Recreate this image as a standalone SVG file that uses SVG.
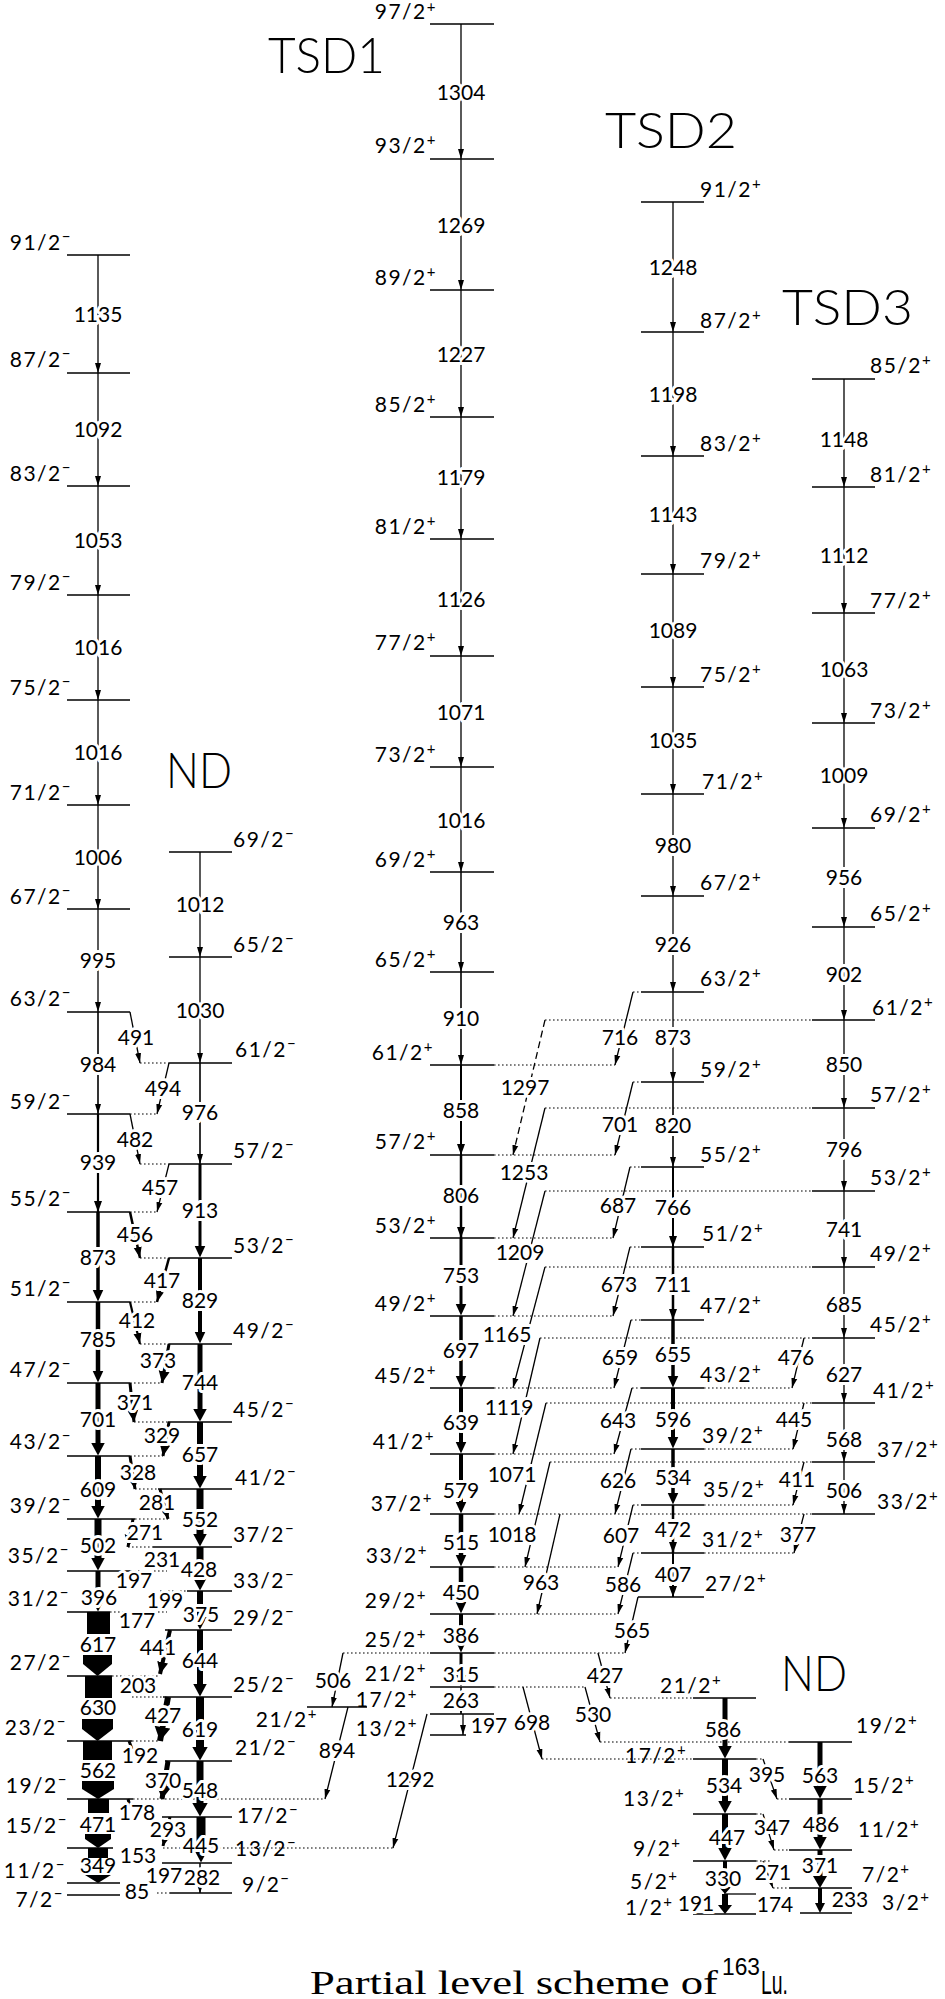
<svg xmlns="http://www.w3.org/2000/svg" width="945" height="1999" viewBox="0 0 945 1999">
<style>
.l{stroke:#000;stroke-width:1.3;fill:none}
.d{stroke:#000;stroke-width:1.2;stroke-dasharray:1.6 2.4;fill:none}
.dd{stroke:#000;stroke-width:1.3;stroke-dasharray:7 4;fill:none}
.t{stroke:#000;stroke-width:1.3;fill:none}
text{font-family:Lato,"DejaVu Sans",sans-serif;font-size:21px;font-weight:400;fill:#000}
#levels text{letter-spacing:1.5px}
.e{text-anchor:end}
.m{text-anchor:middle}
.h{paint-order:stroke;stroke:#fff;stroke-width:6px;stroke-linejoin:round}
.p{font-size:15px}
.big{font-size:50px;font-weight:300}
.cap{font-family:"Liberation Serif",serif;font-size:33px;font-weight:400}
.cs{font-family:"Liberation Sans",sans-serif;font-weight:400}
</style>
<defs>
<marker id="a1" markerUnits="userSpaceOnUse" viewBox="0 -8 16 16" markerWidth="16" markerHeight="16" refX="10" refY="0" orient="auto"><path d="M0,-3L10,0L0,3Z"/></marker>
<marker id="a2" markerUnits="userSpaceOnUse" viewBox="0 -8 16 16" markerWidth="16" markerHeight="16" refX="11" refY="0" orient="auto"><path d="M0,-4L11,0L0,4Z"/></marker>
<marker id="a3" markerUnits="userSpaceOnUse" viewBox="0 -8 16 16" markerWidth="16" markerHeight="16" refX="12" refY="0" orient="auto"><path d="M0,-5.5L12,0L0,5.5Z"/></marker>
<marker id="a4" markerUnits="userSpaceOnUse" viewBox="0 -8 16 16" markerWidth="16" markerHeight="16" refX="14" refY="0" orient="auto"><path d="M0,-8L14,0L0,8Z"/></marker>
<marker id="b3" markerUnits="userSpaceOnUse" viewBox="0 -8 16 16" markerWidth="16" markerHeight="16" refX="0.5" refY="0" orient="auto"><path d="M0,-5.5L12,0L0,5.5Z"/></marker>
<marker id="b4" markerUnits="userSpaceOnUse" viewBox="0 -8 16 16" markerWidth="16" markerHeight="16" refX="0.5" refY="0" orient="auto"><path d="M0,-7L13,0L0,7Z"/></marker>
<marker id="b5" markerUnits="userSpaceOnUse" viewBox="0 -8 16 16" markerWidth="16" markerHeight="16" refX="0.5" refY="0" orient="auto"><path d="M0,-8L14,0L0,8Z"/></marker>
</defs>
<rect width="945" height="1999" fill="#fff"/>

<g id="titles">
<text class="big" x="268" y="73" textLength="117" lengthAdjust="spacingAndGlyphs">TSD1</text>
<text class="big" x="605" y="148" textLength="132" lengthAdjust="spacingAndGlyphs">TSD2</text>
<text class="big" x="782" y="325" textLength="131" lengthAdjust="spacingAndGlyphs">TSD3</text>
<text class="big" x="166" y="788" textLength="66" lengthAdjust="spacingAndGlyphs">ND</text>
<text class="big" x="781" y="1691" textLength="66" lengthAdjust="spacingAndGlyphs">ND</text>
</g>

<g id="levels">
<g id="nd1-91"><line class="l" x1="67" y1="255" x2="130" y2="255"/><text class="e" x="72" y="250">91/2<tspan class="p" dy="-8">−</tspan></text></g>
<g id="nd1-87"><line class="l" x1="67" y1="373" x2="130" y2="373"/><text class="e" x="72" y="367">87/2<tspan class="p" dy="-8">−</tspan></text></g>
<g id="nd1-83"><line class="l" x1="67" y1="486" x2="130" y2="486"/><text class="e" x="72" y="481">83/2<tspan class="p" dy="-8">−</tspan></text></g>
<g id="nd1-79"><line class="l" x1="67" y1="595" x2="130" y2="595"/><text class="e" x="72" y="590">79/2<tspan class="p" dy="-8">−</tspan></text></g>
<g id="nd1-75"><line class="l" x1="67" y1="700" x2="130" y2="700"/><text class="e" x="72" y="695">75/2<tspan class="p" dy="-8">−</tspan></text></g>
<g id="nd1-71"><line class="l" x1="67" y1="805" x2="130" y2="805"/><text class="e" x="72" y="800">71/2<tspan class="p" dy="-8">−</tspan></text></g>
<g id="nd1-67"><line class="l" x1="67" y1="909" x2="130" y2="909"/><text class="e" x="72" y="904">67/2<tspan class="p" dy="-8">−</tspan></text></g>
<g id="nd1-63"><line class="l" x1="67" y1="1012" x2="130" y2="1012"/><text class="e" x="72" y="1006">63/2<tspan class="p" dy="-8">−</tspan></text></g>
<g id="nd1-59"><line class="l" x1="67" y1="1114" x2="130" y2="1114"/><text class="e" x="72" y="1109">59/2<tspan class="p" dy="-8">−</tspan></text></g>
<g id="nd1-55"><line class="l" x1="67" y1="1212" x2="130" y2="1212"/><text class="e" x="72" y="1206">55/2<tspan class="p" dy="-8">−</tspan></text></g>
<g id="nd1-51"><line class="l" x1="67" y1="1302" x2="130" y2="1302"/><text class="e" x="72" y="1296">51/2<tspan class="p" dy="-8">−</tspan></text></g>
<g id="nd1-47"><line class="l" x1="67" y1="1383" x2="130" y2="1383"/><text class="e" x="72" y="1377">47/2<tspan class="p" dy="-8">−</tspan></text></g>
<g id="nd1-43"><line class="l" x1="67" y1="1456" x2="130" y2="1456"/><text class="e" x="72" y="1449">43/2<tspan class="p" dy="-8">−</tspan></text></g>
<g id="nd1-39"><line class="l" x1="67" y1="1519" x2="135" y2="1519"/><text class="e" x="72" y="1513">39/2<tspan class="p" dy="-8">−</tspan></text></g>
<g id="nd1-35"><line class="l" x1="67" y1="1571" x2="130" y2="1571"/><text class="e" x="70" y="1563">35/2<tspan class="p" dy="-8">−</tspan></text></g>
<g id="nd1-31"><line class="l" x1="67" y1="1612" x2="110" y2="1612"/><text class="e" x="70" y="1606">31/2<tspan class="p" dy="-8">−</tspan></text></g>
<g id="nd1-27"><line class="l" x1="67" y1="1676" x2="112" y2="1676"/><text class="e" x="72" y="1670">27/2<tspan class="p" dy="-8">−</tspan></text></g>
<g id="nd1-23"><line class="l" x1="67" y1="1741" x2="132" y2="1741"/><text class="e" x="67" y="1735">23/2<tspan class="p" dy="-8">−</tspan></text></g>
<g id="nd1-19"><line class="l" x1="67" y1="1799" x2="133" y2="1799"/><text class="e" x="68" y="1793">19/2<tspan class="p" dy="-8">−</tspan></text></g>
<g id="nd1-15"><line class="l" x1="67" y1="1848" x2="113" y2="1848"/><text class="e" x="68" y="1833">15/2<tspan class="p" dy="-8">−</tspan></text></g>
<g id="nd1-11"><line class="l" x1="67" y1="1883" x2="120" y2="1883"/><text class="e" x="66" y="1878">11/2<tspan class="p" dy="-8">−</tspan></text></g>
<g id="nd1-7"><line class="l" x1="67" y1="1895" x2="120" y2="1895"/><text class="e" x="64" y="1907">7/2<tspan class="p" dy="-8">−</tspan></text></g>
<g id="nd2-69"><line class="l" x1="169" y1="852" x2="232" y2="852"/><text x="233" y="847">69/2<tspan class="p" dy="-8">−</tspan></text></g>
<g id="nd2-65"><line class="l" x1="169" y1="957" x2="232" y2="957"/><text x="233" y="952">65/2<tspan class="p" dy="-8">−</tspan></text></g>
<g id="nd2-61"><line class="l" x1="169" y1="1063" x2="232" y2="1063"/><text x="235" y="1057">61/2<tspan class="p" dy="-8">−</tspan></text></g>
<g id="nd2-57"><line class="l" x1="169" y1="1164" x2="232" y2="1164"/><text x="233" y="1158">57/2<tspan class="p" dy="-8">−</tspan></text></g>
<g id="nd2-53"><line class="l" x1="169" y1="1258" x2="232" y2="1258"/><text x="233" y="1253">53/2<tspan class="p" dy="-8">−</tspan></text></g>
<g id="nd2-49"><line class="l" x1="169" y1="1344" x2="232" y2="1344"/><text x="233" y="1338">49/2<tspan class="p" dy="-8">−</tspan></text></g>
<g id="nd2-45"><line class="l" x1="168" y1="1422" x2="232" y2="1422"/><text x="233" y="1417">45/2<tspan class="p" dy="-8">−</tspan></text></g>
<g id="nd2-41"><line class="l" x1="158" y1="1489" x2="232" y2="1489"/><text x="235" y="1485">41/2<tspan class="p" dy="-8">−</tspan></text></g>
<g id="nd2-37"><line class="l" x1="153" y1="1547" x2="232" y2="1547"/><text x="233" y="1542">37/2<tspan class="p" dy="-8">−</tspan></text></g>
<g id="nd2-33"><line class="l" x1="187" y1="1591" x2="232" y2="1591"/><text x="233" y="1588">33/2<tspan class="p" dy="-8">−</tspan></text></g>
<g id="nd2-29"><line class="l" x1="165" y1="1630" x2="232" y2="1630"/><text x="233" y="1625">29/2<tspan class="p" dy="-8">−</tspan></text></g>
<g id="nd2-25"><line class="l" x1="163" y1="1697" x2="232" y2="1697"/><text x="233" y="1692">25/2<tspan class="p" dy="-8">−</tspan></text></g>
<g id="nd2-21"><line class="l" x1="165" y1="1761" x2="232" y2="1761"/><text x="235" y="1755">21/2<tspan class="p" dy="-8">−</tspan></text></g>
<g id="nd2-17"><line class="l" x1="162" y1="1817" x2="232" y2="1817"/><text x="237" y="1823">17/2<tspan class="p" dy="-8">−</tspan></text></g>
<g id="nd2-13"><line class="l" x1="162" y1="1863" x2="232" y2="1863"/><text x="235" y="1856">13/2<tspan class="p" dy="-8">−</tspan></text></g>
<g id="nd2-9"><line class="l" x1="170" y1="1893" x2="232" y2="1893"/><text x="242" y="1892">9/2<tspan class="p" dy="-8">−</tspan></text></g>
<g id="tsd1-97"><line class="l" x1="430" y1="24" x2="494" y2="24"/><text class="e" x="437" y="19">97/2<tspan class="p" dy="-7">+</tspan></text></g>
<g id="tsd1-93"><line class="l" x1="430" y1="159" x2="494" y2="159"/><text class="e" x="437" y="153">93/2<tspan class="p" dy="-8">+</tspan></text></g>
<g id="tsd1-89"><line class="l" x1="430" y1="290" x2="494" y2="290"/><text class="e" x="437" y="285">89/2<tspan class="p" dy="-8">+</tspan></text></g>
<g id="tsd1-85"><line class="l" x1="430" y1="417" x2="494" y2="417"/><text class="e" x="437" y="412">85/2<tspan class="p" dy="-8">+</tspan></text></g>
<g id="tsd1-81"><line class="l" x1="430" y1="539" x2="494" y2="539"/><text class="e" x="437" y="534">81/2<tspan class="p" dy="-8">+</tspan></text></g>
<g id="tsd1-77"><line class="l" x1="430" y1="656" x2="494" y2="656"/><text class="e" x="437" y="650">77/2<tspan class="p" dy="-8">+</tspan></text></g>
<g id="tsd1-73"><line class="l" x1="430" y1="767" x2="494" y2="767"/><text class="e" x="437" y="762">73/2<tspan class="p" dy="-8">+</tspan></text></g>
<g id="tsd1-69"><line class="l" x1="430" y1="872" x2="494" y2="872"/><text class="e" x="437" y="867">69/2<tspan class="p" dy="-8">+</tspan></text></g>
<g id="tsd1-65"><line class="l" x1="430" y1="972" x2="494" y2="972"/><text class="e" x="437" y="967">65/2<tspan class="p" dy="-8">+</tspan></text></g>
<g id="tsd1-61"><line class="l" x1="430" y1="1065" x2="494" y2="1065"/><text class="e" x="434" y="1060">61/2<tspan class="p" dy="-8">+</tspan></text></g>
<g id="tsd1-57"><line class="l" x1="430" y1="1155" x2="494" y2="1155"/><text class="e" x="437" y="1149">57/2<tspan class="p" dy="-8">+</tspan></text></g>
<g id="tsd1-53"><line class="l" x1="430" y1="1238" x2="494" y2="1238"/><text class="e" x="437" y="1233">53/2<tspan class="p" dy="-8">+</tspan></text></g>
<g id="tsd1-49"><line class="l" x1="430" y1="1316" x2="494" y2="1316"/><text class="e" x="437" y="1311">49/2<tspan class="p" dy="-8">+</tspan></text></g>
<g id="tsd1-45"><line class="l" x1="430" y1="1388" x2="494" y2="1388"/><text class="e" x="437" y="1383">45/2<tspan class="p" dy="-8">+</tspan></text></g>
<g id="tsd1-41"><line class="l" x1="430" y1="1454" x2="494" y2="1454"/><text class="e" x="435" y="1449">41/2<tspan class="p" dy="-8">+</tspan></text></g>
<g id="tsd1-37"><line class="l" x1="430" y1="1514" x2="494" y2="1514"/><text class="e" x="433" y="1511">37/2<tspan class="p" dy="-8">+</tspan></text></g>
<g id="tsd1-33"><line class="l" x1="430" y1="1567" x2="494" y2="1567"/><text class="e" x="428" y="1563">33/2<tspan class="p" dy="-8">+</tspan></text></g>
<g id="tsd1-29"><line class="l" x1="430" y1="1614" x2="494" y2="1614"/><text class="e" x="427" y="1608">29/2<tspan class="p" dy="-8">+</tspan></text></g>
<g id="tsd1-25"><line class="l" x1="430" y1="1653" x2="494" y2="1653"/><text class="e" x="427" y="1647">25/2<tspan class="p" dy="-8">+</tspan></text></g>
<g id="tsd1-21"><line class="l" x1="430" y1="1687" x2="494" y2="1687"/><text class="e" x="427" y="1681">21/2<tspan class="p" dy="-8">+</tspan></text></g>
<g id="tsd1-17"><line class="l" x1="430" y1="1714" x2="494" y2="1714"/><text class="e" x="418" y="1707">17/2<tspan class="p" dy="-8">+</tspan></text></g>
<g id="tsd1-13"><line class="l" x1="430" y1="1735" x2="466" y2="1735"/><text class="e" x="418" y="1736">13/2<tspan class="p" dy="-8">+</tspan></text></g>
<g id="lv-21p-short"><line class="l" x1="307" y1="1707" x2="367" y2="1707"/><text class="e" x="318" y="1727">21/2<tspan class="p" dy="-8">+</tspan></text></g>
<g id="tsd2-91"><line class="l" x1="641" y1="202" x2="704" y2="202"/><text x="700" y="197">91/2<tspan class="p" dy="-8">+</tspan></text></g>
<g id="tsd2-87"><line class="l" x1="641" y1="332" x2="704" y2="332"/><text x="700" y="328">87/2<tspan class="p" dy="-8">+</tspan></text></g>
<g id="tsd2-83"><line class="l" x1="641" y1="456" x2="704" y2="456"/><text x="700" y="451">83/2<tspan class="p" dy="-8">+</tspan></text></g>
<g id="tsd2-79"><line class="l" x1="641" y1="574" x2="704" y2="574"/><text x="700" y="568">79/2<tspan class="p" dy="-8">+</tspan></text></g>
<g id="tsd2-75"><line class="l" x1="641" y1="687" x2="704" y2="687"/><text x="700" y="682">75/2<tspan class="p" dy="-8">+</tspan></text></g>
<g id="tsd2-71"><line class="l" x1="641" y1="794" x2="704" y2="794"/><text x="702" y="789">71/2<tspan class="p" dy="-8">+</tspan></text></g>
<g id="tsd2-67"><line class="l" x1="641" y1="896" x2="704" y2="896"/><text x="700" y="890">67/2<tspan class="p" dy="-8">+</tspan></text></g>
<g id="tsd2-63"><line class="l" x1="641" y1="992" x2="704" y2="992"/><text x="700" y="986">63/2<tspan class="p" dy="-8">+</tspan></text></g>
<g id="tsd2-59"><line class="l" x1="641" y1="1082" x2="704" y2="1082"/><text x="700" y="1077">59/2<tspan class="p" dy="-8">+</tspan></text></g>
<g id="tsd2-55"><line class="l" x1="641" y1="1167" x2="704" y2="1167"/><text x="700" y="1162">55/2<tspan class="p" dy="-8">+</tspan></text></g>
<g id="tsd2-51"><line class="l" x1="641" y1="1247" x2="704" y2="1247"/><text x="702" y="1241">51/2<tspan class="p" dy="-8">+</tspan></text></g>
<g id="tsd2-47"><line class="l" x1="641" y1="1320" x2="704" y2="1320"/><text x="700" y="1313">47/2<tspan class="p" dy="-8">+</tspan></text></g>
<g id="tsd2-43"><line class="l" x1="641" y1="1388" x2="704" y2="1388"/><text x="700" y="1382">43/2<tspan class="p" dy="-8">+</tspan></text></g>
<g id="tsd2-39"><line class="l" x1="641" y1="1449" x2="704" y2="1449"/><text x="702" y="1443">39/2<tspan class="p" dy="-8">+</tspan></text></g>
<g id="tsd2-35"><line class="l" x1="641" y1="1505" x2="704" y2="1505"/><text x="703" y="1497">35/2<tspan class="p" dy="-8">+</tspan></text></g>
<g id="tsd2-31"><line class="l" x1="641" y1="1553" x2="704" y2="1553"/><text x="702" y="1547">31/2<tspan class="p" dy="-8">+</tspan></text></g>
<g id="tsd2-27"><line class="l" x1="638" y1="1597" x2="704" y2="1597"/><text x="705" y="1591">27/2<tspan class="p" dy="-8">+</tspan></text></g>
<g id="tsd3-85"><line class="l" x1="812" y1="379" x2="875" y2="379"/><text x="870" y="373">85/2<tspan class="p" dy="-8">+</tspan></text></g>
<g id="tsd3-81"><line class="l" x1="812" y1="487" x2="875" y2="487"/><text x="870" y="482">81/2<tspan class="p" dy="-8">+</tspan></text></g>
<g id="tsd3-77"><line class="l" x1="812" y1="613" x2="875" y2="613"/><text x="870" y="608">77/2<tspan class="p" dy="-8">+</tspan></text></g>
<g id="tsd3-73"><line class="l" x1="812" y1="723" x2="875" y2="723"/><text x="870" y="718">73/2<tspan class="p" dy="-8">+</tspan></text></g>
<g id="tsd3-69"><line class="l" x1="812" y1="828" x2="875" y2="828"/><text x="870" y="822">69/2<tspan class="p" dy="-8">+</tspan></text></g>
<g id="tsd3-65"><line class="l" x1="812" y1="927" x2="875" y2="927"/><text x="870" y="921">65/2<tspan class="p" dy="-8">+</tspan></text></g>
<g id="tsd3-61"><line class="l" x1="812" y1="1020" x2="875" y2="1020"/><text x="872" y="1015">61/2<tspan class="p" dy="-8">+</tspan></text></g>
<g id="tsd3-57"><line class="l" x1="812" y1="1108" x2="875" y2="1108"/><text x="870" y="1102">57/2<tspan class="p" dy="-8">+</tspan></text></g>
<g id="tsd3-53"><line class="l" x1="812" y1="1191" x2="875" y2="1191"/><text x="870" y="1185">53/2<tspan class="p" dy="-8">+</tspan></text></g>
<g id="tsd3-49"><line class="l" x1="812" y1="1267" x2="875" y2="1267"/><text x="870" y="1261">49/2<tspan class="p" dy="-8">+</tspan></text></g>
<g id="tsd3-45"><line class="l" x1="812" y1="1338" x2="875" y2="1338"/><text x="870" y="1332">45/2<tspan class="p" dy="-8">+</tspan></text></g>
<g id="tsd3-41"><line class="l" x1="812" y1="1403" x2="875" y2="1403"/><text x="873" y="1398">41/2<tspan class="p" dy="-8">+</tspan></text></g>
<g id="tsd3-37"><line class="l" x1="812" y1="1462" x2="875" y2="1462"/><text x="877" y="1457">37/2<tspan class="p" dy="-8">+</tspan></text></g>
<g id="tsd3-33"><line class="l" x1="812" y1="1514" x2="875" y2="1514"/><text x="877" y="1509">33/2<tspan class="p" dy="-8">+</tspan></text></g>
<g id="ndp-21"><line class="l" x1="693" y1="1698" x2="756" y2="1698"/><text x="660" y="1693">21/2<tspan class="p" dy="-8">+</tspan></text></g>
<g id="ndp-19"><line class="l" x1="789" y1="1742" x2="852" y2="1742"/><text x="856" y="1733">19/2<tspan class="p" dy="-8">+</tspan></text></g>
<g id="ndp-17"><line class="l" x1="693" y1="1759" x2="756" y2="1759"/><text x="625" y="1763">17/2<tspan class="p" dy="-8">+</tspan></text></g>
<g id="ndp-15"><line class="l" x1="789" y1="1799" x2="852" y2="1799"/><text x="853" y="1793">15/2<tspan class="p" dy="-8">+</tspan></text></g>
<g id="ndp-13"><line class="l" x1="693" y1="1814" x2="756" y2="1814"/><text x="623" y="1806">13/2<tspan class="p" dy="-8">+</tspan></text></g>
<g id="ndp-11"><line class="l" x1="789" y1="1850" x2="852" y2="1850"/><text x="858" y="1837">11/2<tspan class="p" dy="-8">+</tspan></text></g>
<g id="ndp-9"><line class="l" x1="693" y1="1861" x2="756" y2="1861"/><text x="633" y="1856">9/2<tspan class="p" dy="-8">+</tspan></text></g>
<g id="ndp-7"><line class="l" x1="789" y1="1888" x2="852" y2="1888"/><text x="862" y="1882">7/2<tspan class="p" dy="-8">+</tspan></text></g>
<g id="ndp-5"><line class="l" x1="724" y1="1894" x2="756" y2="1894"/><text x="630" y="1889">5/2<tspan class="p" dy="-8">+</tspan></text></g>
<g id="ndp-3"><line class="l" x1="800" y1="1913" x2="852" y2="1913"/><text x="882" y="1910">3/2<tspan class="p" dy="-8">+</tspan></text></g>
<g id="ndp-1"><line class="l" x1="693" y1="1914" x2="756" y2="1914"/><text x="625" y="1915">1/2<tspan class="p" dy="-8">+</tspan></text></g>
</g>

<g id="connectors">
<path class="d" d="M140,1063H169M130,1114H157M140,1164H169M130,1212H157M140,1258H169M130,1302H157M140,1344H169M130,1383H162M134,1422H168M130,1456H163M135,1489H158M135,1519H168M128,1547H153M130,1571H167M160,1591H187M110,1612H167M112,1676H160M132,1697H163M132,1741H160M133,1799H325M163,1848H393M157,1893H170"/>
<path class="d" d="M343,1653H430M494,1065H615M494,1155H615M494,1238H613M494,1316H613M494,1388H614M494,1454H614M494,1514H812M494,1567H618M494,1614H618M494,1653H625M494,1687H585"/>
<path class="d" d="M545,1020H812M545,1108H812M545,1191H812M545,1267H812M540,1338H812M546,1403H812M550,1462H812"/>
<path class="d" d="M633,992H641M633,1082H641M630,1167H641M630,1247H641M631,1320H641M632,1388H641M631,1449H641M633,1505H641M633,1553H641M704,1388H792M704,1449H793M704,1505H793M704,1553H794"/>
<path class="d" d="M610,1698H693M600,1742H789M542,1759H693M756,1759H763M777,1799H789M756,1814H763M774,1850H789M756,1861H770M773,1888H789"/>

<line class="t" x1="98" y1="255" x2="98" y2="373" marker-end="url(#a1)"/>
<line class="t" x1="98" y1="373" x2="98" y2="486" marker-end="url(#a1)"/>
<line class="t" x1="98" y1="486" x2="98" y2="595" marker-end="url(#a1)"/>
<line class="t" x1="98" y1="595" x2="98" y2="700" marker-end="url(#a1)"/>
<line class="t" x1="98" y1="700" x2="98" y2="805" marker-end="url(#a1)"/>
<line class="t" x1="98" y1="805" x2="98" y2="909" marker-end="url(#a1)"/>
<line class="t" x1="98" y1="909" x2="98" y2="1012" marker-end="url(#a1)"/>
<line class="t" x1="98" y1="1012" x2="98" y2="1114" marker-end="url(#a1)" style="stroke-width:1.6"/>
<line class="t" x1="98" y1="1114" x2="98" y2="1212" marker-end="url(#a2)" style="stroke-width:2.2"/>
<line class="t" x1="98" y1="1212" x2="98" y2="1290" marker-end="url(#b3)" style="stroke-width:3.5"/>
<line class="t" x1="98" y1="1302" x2="98" y2="1371" marker-end="url(#b3)" style="stroke-width:4.5"/>
<line class="t" x1="98" y1="1383" x2="98" y2="1443" marker-end="url(#b4)" style="stroke-width:5"/>
<line class="t" x1="98" y1="1456" x2="98" y2="1506" marker-end="url(#b4)" style="stroke-width:6"/>
<line class="t" x1="98" y1="1519" x2="98" y2="1558" marker-end="url(#b4)" style="stroke-width:7"/>
<line class="t" x1="98" y1="1571" x2="98" y2="1599" marker-end="url(#b4)" style="stroke-width:5"/>
<rect x="87" y="1612" width="23" height="22"/>
<polygon points="83,1655 112,1655 112,1664 97.5,1676 83,1664"/>
<rect x="85" y="1676" width="27" height="22"/>
<polygon points="82,1719 113,1719 113,1729 97.5,1741 82,1729"/>
<rect x="83" y="1741" width="29" height="19"/>
<polygon points="82,1781 114,1781 114,1789 98,1799 82,1789"/>
<rect x="88" y="1799" width="21" height="14"/>
<polygon points="85,1834 111,1834 111,1839 98,1848 85,1839"/>
<rect x="88" y="1848" width="20" height="10"/>
<polygon points="85,1875 111,1875 98,1883"/>
<line class="t" x1="200" y1="852" x2="200" y2="957" marker-end="url(#a1)"/>
<line class="t" x1="200" y1="957" x2="200" y2="1063" marker-end="url(#a1)"/>
<line class="t" x1="200" y1="1063" x2="200" y2="1164" marker-end="url(#a1)" style="stroke-width:1.6"/>
<line class="t" x1="200" y1="1164" x2="200" y2="1246" marker-end="url(#b3)" style="stroke-width:3"/>
<line class="t" x1="200" y1="1258" x2="200" y2="1332" marker-end="url(#b3)" style="stroke-width:4"/>
<line class="t" x1="200" y1="1344" x2="200" y2="1409" marker-end="url(#b4)" style="stroke-width:5"/>
<line class="t" x1="200" y1="1422" x2="200" y2="1476" marker-end="url(#b4)" style="stroke-width:6"/>
<line class="t" x1="200" y1="1489" x2="200" y2="1534" marker-end="url(#b4)" style="stroke-width:7"/>
<line class="t" x1="200" y1="1547" x2="200" y2="1578" marker-end="url(#b4)" style="stroke-width:7"/>
<line class="t" x1="200" y1="1591" x2="200" y2="1617" marker-end="url(#b4)" style="stroke-width:6"/>
<line class="t" x1="200" y1="1630" x2="200" y2="1684" marker-end="url(#b4)" style="stroke-width:6"/>
<line class="t" x1="200" y1="1697" x2="200" y2="1747" marker-end="url(#b5)" style="stroke-width:8"/>
<line class="t" x1="200" y1="1761" x2="200" y2="1803" marker-end="url(#b5)" style="stroke-width:7"/>
<line class="t" x1="201" y1="1817" x2="201" y2="1850" marker-end="url(#b4)" style="stroke-width:9"/>
<line class="t" x1="200" y1="1863" x2="200" y2="1893" marker-end="url(#a2)" style="stroke-width:1.5"/>
<line class="t" x1="130" y1="1012" x2="140" y2="1063" marker-end="url(#a1)"/>
<line class="t" x1="169" y1="1063" x2="157" y2="1114" marker-end="url(#a1)"/>
<line class="t" x1="130" y1="1114" x2="140" y2="1164" marker-end="url(#a1)"/>
<line class="t" x1="169" y1="1164" x2="157" y2="1212" marker-end="url(#a1)"/>
<line class="t" x1="130" y1="1212" x2="140" y2="1258" marker-end="url(#a2)" style="stroke-width:2.5"/>
<line class="t" x1="169" y1="1258" x2="157" y2="1302" marker-end="url(#a2)" style="stroke-width:2.5"/>
<line class="t" x1="130" y1="1302" x2="140" y2="1344" marker-end="url(#a2)" style="stroke-width:2.2"/>
<line class="t" x1="169" y1="1344" x2="162" y2="1383" marker-end="url(#a3)" style="stroke-width:3"/>
<line class="t" x1="130" y1="1383" x2="134" y2="1422" marker-end="url(#a3)" style="stroke-width:3"/>
<line class="t" x1="169" y1="1422" x2="163" y2="1456" marker-end="url(#a3)" style="stroke-width:3"/>
<line class="t" x1="130" y1="1456" x2="135" y2="1489" marker-end="url(#a3)" style="stroke-width:3"/>
<line class="t" x1="160" y1="1489" x2="168" y2="1519" marker-end="url(#a3)" style="stroke-width:3"/>
<line class="t" x1="133" y1="1519" x2="128" y2="1547" marker-end="url(#a3)" style="stroke-width:3"/>
<line class="t" x1="170" y1="1630" x2="160" y2="1674" marker-end="url(#a3)" style="stroke-width:4"/>
<line class="t" x1="168" y1="1697" x2="160" y2="1741" marker-end="url(#a4)" style="stroke-width:6"/>
<line class="t" x1="168" y1="1761" x2="162" y2="1799" marker-end="url(#a4)" style="stroke-width:5"/>
<line class="t" x1="170" y1="1817" x2="163" y2="1846" marker-end="url(#a3)" style="stroke-width:3"/>
<line class="t" x1="129" y1="1741" x2="132" y2="1749" style="stroke-width:3"/>
<line class="t" x1="128" y1="1799" x2="130" y2="1806" style="stroke-width:3"/>
<line class="t" x1="343" y1="1653" x2="332" y2="1707" marker-end="url(#a1)"/>
<line class="t" x1="348" y1="1707" x2="325" y2="1799" marker-end="url(#a1)"/>
<line class="t" x1="427" y1="1714" x2="393" y2="1848" marker-end="url(#a1)"/>
<line class="t" x1="461" y1="24" x2="461" y2="159" marker-end="url(#a1)"/>
<line class="t" x1="461" y1="159" x2="461" y2="290" marker-end="url(#a1)"/>
<line class="t" x1="461" y1="290" x2="461" y2="417" marker-end="url(#a1)"/>
<line class="t" x1="461" y1="417" x2="461" y2="539" marker-end="url(#a1)"/>
<line class="t" x1="461" y1="539" x2="461" y2="656" marker-end="url(#a1)"/>
<line class="t" x1="461" y1="656" x2="461" y2="767" marker-end="url(#a1)"/>
<line class="t" x1="461" y1="767" x2="461" y2="872" marker-end="url(#a1)"/>
<line class="t" x1="461" y1="872" x2="461" y2="972" marker-end="url(#a1)" style="stroke-width:1.5"/>
<line class="t" x1="461" y1="972" x2="461" y2="1065" marker-end="url(#a1)" style="stroke-width:1.6"/>
<line class="t" x1="461" y1="1065" x2="461" y2="1155" marker-end="url(#a2)" style="stroke-width:2"/>
<line class="t" x1="461" y1="1155" x2="461" y2="1238" marker-end="url(#a2)" style="stroke-width:2.5"/>
<line class="t" x1="461" y1="1238" x2="461" y2="1304" marker-end="url(#b3)" style="stroke-width:3"/>
<line class="t" x1="461" y1="1316" x2="461" y2="1376" marker-end="url(#b3)" style="stroke-width:3.5"/>
<line class="t" x1="461" y1="1388" x2="461" y2="1442" marker-end="url(#b3)" style="stroke-width:4"/>
<line class="t" x1="461" y1="1454" x2="461" y2="1502" marker-end="url(#b3)" style="stroke-width:4"/>
<line class="t" x1="461" y1="1514" x2="461" y2="1555" marker-end="url(#b3)" style="stroke-width:4.5"/>
<line class="t" x1="461" y1="1567" x2="461" y2="1602" marker-end="url(#b3)" style="stroke-width:4.5"/>
<line class="t" x1="461" y1="1614" x2="461" y2="1641" marker-end="url(#b3)" style="stroke-width:4"/>
<line class="t" x1="461" y1="1653" x2="461" y2="1675" marker-end="url(#b3)" style="stroke-width:3"/>
<line class="t" x1="461" y1="1687" x2="461" y2="1714" marker-end="url(#a1)" style="stroke-width:1.5"/>
<line class="t" x1="463" y1="1714" x2="463" y2="1735" marker-end="url(#a1)"/>
<line class="t" x1="673" y1="202" x2="673" y2="332" marker-end="url(#a1)"/>
<line class="t" x1="673" y1="332" x2="673" y2="456" marker-end="url(#a1)"/>
<line class="t" x1="673" y1="456" x2="673" y2="574" marker-end="url(#a1)"/>
<line class="t" x1="673" y1="574" x2="673" y2="687" marker-end="url(#a1)"/>
<line class="t" x1="673" y1="687" x2="673" y2="794" marker-end="url(#a1)"/>
<line class="t" x1="673" y1="794" x2="673" y2="896" marker-end="url(#a1)"/>
<line class="t" x1="673" y1="896" x2="673" y2="992" marker-end="url(#a1)"/>
<line class="t" x1="673" y1="992" x2="673" y2="1082" marker-end="url(#a1)"/>
<line class="t" x1="673" y1="1082" x2="673" y2="1167" marker-end="url(#a1)" style="stroke-width:1.6"/>
<line class="t" x1="673" y1="1167" x2="673" y2="1247" marker-end="url(#a2)" style="stroke-width:2"/>
<line class="t" x1="673" y1="1247" x2="673" y2="1320" marker-end="url(#a2)" style="stroke-width:2.5"/>
<line class="t" x1="673" y1="1320" x2="673" y2="1376" marker-end="url(#b3)" style="stroke-width:3.5"/>
<line class="t" x1="673" y1="1388" x2="673" y2="1437" marker-end="url(#b3)" style="stroke-width:4"/>
<line class="t" x1="673" y1="1449" x2="673" y2="1493" marker-end="url(#b3)" style="stroke-width:3.5"/>
<line class="t" x1="673" y1="1505" x2="673" y2="1553" marker-end="url(#a2)" style="stroke-width:2.5"/>
<line class="t" x1="673" y1="1553" x2="673" y2="1597" marker-end="url(#a2)" style="stroke-width:2"/>
<line class="t" x1="844" y1="379" x2="844" y2="487" marker-end="url(#a1)"/>
<line class="t" x1="844" y1="487" x2="844" y2="613" marker-end="url(#a1)"/>
<line class="t" x1="844" y1="613" x2="844" y2="723" marker-end="url(#a1)"/>
<line class="t" x1="844" y1="723" x2="844" y2="828" marker-end="url(#a1)"/>
<line class="t" x1="844" y1="828" x2="844" y2="927" marker-end="url(#a1)"/>
<line class="t" x1="844" y1="927" x2="844" y2="1020" marker-end="url(#a1)"/>
<line class="t" x1="844" y1="1020" x2="844" y2="1108" marker-end="url(#a1)"/>
<line class="t" x1="844" y1="1108" x2="844" y2="1191" marker-end="url(#a1)"/>
<line class="t" x1="844" y1="1191" x2="844" y2="1267" marker-end="url(#a1)"/>
<line class="t" x1="844" y1="1267" x2="844" y2="1338" marker-end="url(#a1)"/>
<line class="t" x1="844" y1="1338" x2="844" y2="1403" marker-end="url(#a1)"/>
<line class="t" x1="844" y1="1403" x2="844" y2="1462" marker-end="url(#a1)"/>
<line class="t" x1="844" y1="1462" x2="844" y2="1514" marker-end="url(#a1)"/>
<line class="t" x1="633" y1="992" x2="615" y2="1065" marker-end="url(#a1)"/>
<line class="t" x1="633" y1="1082" x2="615" y2="1155" marker-end="url(#a1)"/>
<line class="t" x1="630" y1="1167" x2="613" y2="1238" marker-end="url(#a1)"/>
<line class="t" x1="630" y1="1247" x2="613" y2="1316" marker-end="url(#a1)"/>
<line class="t" x1="631" y1="1320" x2="614" y2="1388" marker-end="url(#a1)"/>
<line class="t" x1="632" y1="1388" x2="614" y2="1454" marker-end="url(#a1)"/>
<line class="t" x1="631" y1="1449" x2="615" y2="1514" marker-end="url(#a1)"/>
<line class="t" x1="633" y1="1505" x2="618" y2="1567" marker-end="url(#a1)"/>
<line class="t" x1="633" y1="1553" x2="618" y2="1614" marker-end="url(#a1)"/>
<line class="t" x1="638" y1="1597" x2="625" y2="1653" marker-end="url(#a1)"/>
<line class="dd" x1="545" y1="1020" x2="513" y2="1155" marker-end="url(#a1)"/>
<line class="t" x1="545" y1="1108" x2="513" y2="1238" marker-end="url(#a1)"/>
<line class="t" x1="545" y1="1191" x2="513" y2="1316" marker-end="url(#a1)"/>
<line class="t" x1="545" y1="1267" x2="513" y2="1388" marker-end="url(#a1)"/>
<line class="t" x1="540" y1="1338" x2="513" y2="1454" marker-end="url(#a1)"/>
<line class="t" x1="546" y1="1403" x2="519" y2="1514" marker-end="url(#a1)"/>
<line class="t" x1="550" y1="1462" x2="525" y2="1567" marker-end="url(#a1)"/>
<line class="t" x1="560" y1="1514" x2="537" y2="1614" marker-end="url(#a1)"/>
<line class="t" x1="804" y1="1338" x2="792" y2="1388" marker-end="url(#a1)"/>
<line class="t" x1="804" y1="1403" x2="793" y2="1449" marker-end="url(#a1)"/>
<line class="t" x1="804" y1="1462" x2="793" y2="1505" marker-end="url(#a1)"/>
<line class="t" x1="804" y1="1514" x2="794" y2="1553" marker-end="url(#a1)"/>
<line class="t" x1="598" y1="1653" x2="610" y2="1698" marker-end="url(#a1)"/>
<line class="t" x1="585" y1="1687" x2="600" y2="1742" marker-end="url(#a1)"/>
<line class="t" x1="523" y1="1687" x2="542" y2="1759" marker-end="url(#a1)"/>
<line class="t" x1="725" y1="1698" x2="725" y2="1746" marker-end="url(#b4)" style="stroke-width:5"/>
<line class="t" x1="820" y1="1742" x2="820" y2="1786" marker-end="url(#b4)" style="stroke-width:5"/>
<line class="t" x1="725" y1="1759" x2="725" y2="1801" marker-end="url(#b4)" style="stroke-width:6"/>
<line class="t" x1="820" y1="1799" x2="820" y2="1837" marker-end="url(#b4)" style="stroke-width:5"/>
<line class="t" x1="725" y1="1814" x2="725" y2="1848" marker-end="url(#b4)" style="stroke-width:6"/>
<line class="t" x1="820" y1="1850" x2="820" y2="1876" style="stroke-width:5"/>
<polygon points="813,1876 827,1876 820,1888"/>
<line class="t" x1="725" y1="1861" x2="725" y2="1887" style="stroke-width:4"/>
<polygon points="719,1887 731,1887 725,1894"/>
<line class="t" x1="725" y1="1894" x2="725" y2="1905" style="stroke-width:6"/>
<polygon points="718,1905 732,1905 725,1914"/>
<line class="t" x1="820" y1="1888" x2="820" y2="1903" style="stroke-width:4"/>
<polygon points="815,1903 825,1903 820,1913"/>
<line class="t" x1="763" y1="1759" x2="777" y2="1799" marker-end="url(#a1)"/>
<line class="t" x1="763" y1="1814" x2="774" y2="1850" marker-end="url(#a1)"/>
<line class="t" x1="763" y1="1861" x2="773" y2="1888" marker-end="url(#a1)"/>

<g id="labels">
<text class="m h" x="98" y="322">1135</text>
<text class="m h" x="98" y="437">1092</text>
<text class="m h" x="98" y="548">1053</text>
<text class="m h" x="98" y="655">1016</text>
<text class="m h" x="98" y="760">1016</text>
<text class="m h" x="98" y="865">1006</text>
<text class="m h" x="98" y="968">995</text>
<text class="m h" x="98" y="1072">984</text>
<text class="m h" x="98" y="1170">939</text>
<text class="m h" x="98" y="1265">873</text>
<text class="m h" x="98" y="1347">785</text>
<text class="m h" x="98" y="1427">701</text>
<text class="m h" x="98" y="1497">609</text>
<text class="m h" x="98" y="1553">502</text>
<text class="m h" x="99" y="1605">396</text>
<text class="m" x="98" y="1652">617</text>
<text class="m" x="98" y="1715">630</text>
<text class="m" x="98" y="1778">562</text>
<text class="m" x="98" y="1832">471</text>
<text class="m" x="98" y="1873">349</text>
<text class="m h" x="200" y="912">1012</text>
<text class="m h" x="200" y="1018">1030</text>
<text class="m h" x="200" y="1120">976</text>
<text class="m h" x="200" y="1218">913</text>
<text class="m h" x="200" y="1308">829</text>
<text class="m h" x="200" y="1390">744</text>
<text class="m h" x="200" y="1462">657</text>
<text class="m h" x="200" y="1527">552</text>
<text class="m h" x="199" y="1577">428</text>
<text class="m h" x="201" y="1622">375</text>
<text class="m h" x="200" y="1668">644</text>
<text class="m h" x="200" y="1737">619</text>
<text class="m h" x="200" y="1798">548</text>
<text class="m h" x="201" y="1853">445</text>
<text class="m h" x="202" y="1885">282</text>
<text class="m h" x="136" y="1045">491</text>
<text class="m h" x="163" y="1096">494</text>
<text class="m h" x="135" y="1147">482</text>
<text class="m h" x="160" y="1195">457</text>
<text class="m h" x="135" y="1242">456</text>
<text class="m h" x="162" y="1288">417</text>
<text class="m h" x="137" y="1328">412</text>
<text class="m h" x="158" y="1368">373</text>
<text class="m h" x="135" y="1410">371</text>
<text class="m h" x="162" y="1443">329</text>
<text class="m h" x="138" y="1480">328</text>
<text class="m h" x="157" y="1510">281</text>
<text class="m h" x="145" y="1540">271</text>
<text class="m h" x="162" y="1567">231</text>
<text class="m h" x="134" y="1588">197</text>
<text class="m h" x="165" y="1608">199</text>
<text class="m h" x="137" y="1628">177</text>
<text class="m h" x="158" y="1655">441</text>
<text class="m h" x="138" y="1693">203</text>
<text class="m h" x="163" y="1723">427</text>
<text class="m h" x="140" y="1763">192</text>
<text class="m h" x="163" y="1788">370</text>
<text class="m h" x="137" y="1820">178</text>
<text class="m h" x="168" y="1837">293</text>
<text class="m h" x="138" y="1863">153</text>
<text class="m h" x="164" y="1883">197</text>
<text class="m h" x="137" y="1899">85</text>
<text class="m h" x="333" y="1688">506</text>
<text class="m h" x="337" y="1758">894</text>
<text class="m h" x="410" y="1787">1292</text>
<text class="m h" x="461" y="100">1304</text>
<text class="m h" x="461" y="233">1269</text>
<text class="m h" x="461" y="362">1227</text>
<text class="m h" x="461" y="485">1179</text>
<text class="m h" x="461" y="607">1126</text>
<text class="m h" x="461" y="720">1071</text>
<text class="m h" x="461" y="828">1016</text>
<text class="m h" x="461" y="930">963</text>
<text class="m h" x="461" y="1026">910</text>
<text class="m h" x="461" y="1118">858</text>
<text class="m h" x="461" y="1203">806</text>
<text class="m h" x="461" y="1283">753</text>
<text class="m h" x="461" y="1358">697</text>
<text class="m h" x="461" y="1430">639</text>
<text class="m h" x="461" y="1498">579</text>
<text class="m h" x="461" y="1550">515</text>
<text class="m h" x="461" y="1600">450</text>
<text class="m h" x="461" y="1643">386</text>
<text class="m h" x="461" y="1682">315</text>
<text class="m h" x="461" y="1708">263</text>
<text class="m h" x="489" y="1733">197</text>
<text class="m h" x="673" y="275">1248</text>
<text class="m h" x="673" y="402">1198</text>
<text class="m h" x="673" y="522">1143</text>
<text class="m h" x="673" y="638">1089</text>
<text class="m h" x="673" y="748">1035</text>
<text class="m h" x="673" y="853">980</text>
<text class="m h" x="673" y="952">926</text>
<text class="m h" x="673" y="1045">873</text>
<text class="m h" x="673" y="1133">820</text>
<text class="m h" x="673" y="1215">766</text>
<text class="m h" x="673" y="1292">711</text>
<text class="m h" x="673" y="1362">655</text>
<text class="m h" x="673" y="1427">596</text>
<text class="m h" x="673" y="1485">534</text>
<text class="m h" x="673" y="1537">472</text>
<text class="m h" x="673" y="1582">407</text>
<text class="m h" x="844" y="447">1148</text>
<text class="m h" x="844" y="563">1112</text>
<text class="m h" x="844" y="677">1063</text>
<text class="m h" x="844" y="783">1009</text>
<text class="m h" x="844" y="885">956</text>
<text class="m h" x="844" y="982">902</text>
<text class="m h" x="844" y="1072">850</text>
<text class="m h" x="844" y="1157">796</text>
<text class="m h" x="844" y="1237">741</text>
<text class="m h" x="844" y="1312">685</text>
<text class="m h" x="844" y="1382">627</text>
<text class="m h" x="844" y="1447">568</text>
<text class="m h" x="844" y="1498">506</text>
<text class="m h" x="620" y="1045">716</text>
<text class="m h" x="620" y="1132">701</text>
<text class="m h" x="618" y="1213">687</text>
<text class="m h" x="619" y="1292">673</text>
<text class="m h" x="620" y="1365">659</text>
<text class="m h" x="618" y="1428">643</text>
<text class="m h" x="618" y="1488">626</text>
<text class="m h" x="621" y="1543">607</text>
<text class="m h" x="623" y="1592">586</text>
<text class="m h" x="632" y="1638">565</text>
<text class="m h" x="525" y="1095">1297</text>
<text class="m h" x="524" y="1180">1253</text>
<text class="m h" x="520" y="1260">1209</text>
<text class="m h" x="507" y="1342">1165</text>
<text class="m h" x="509" y="1415">1119</text>
<text class="m h" x="512" y="1482">1071</text>
<text class="m h" x="512" y="1542">1018</text>
<text class="m h" x="541" y="1590">963</text>
<text class="m h" x="796" y="1365">476</text>
<text class="m h" x="794" y="1427">445</text>
<text class="m h" x="797" y="1487">411</text>
<text class="m h" x="798" y="1542">377</text>
<text class="m h" x="605" y="1683">427</text>
<text class="m h" x="593" y="1722">530</text>
<text class="m h" x="532" y="1730">698</text>
<text class="m h" x="723" y="1737">586</text>
<text class="m h" x="820" y="1783">563</text>
<text class="m h" x="724" y="1793">534</text>
<text class="m h" x="767" y="1782">395</text>
<text class="m h" x="821" y="1832">486</text>
<text class="m h" x="772" y="1835">347</text>
<text class="m h" x="727" y="1845">447</text>
<text class="m h" x="820" y="1873">371</text>
<text class="m h" x="773" y="1880">271</text>
<text class="m h" x="723" y="1886">330</text>
<text class="m h" x="696" y="1911">191</text>
<text class="m h" x="775" y="1912">174</text>
<text class="m h" x="850" y="1907">233</text>
</g>
</g>

<g id="caption">
<text class="cap" x="310" y="1994" textLength="408" lengthAdjust="spacingAndGlyphs">Partial level scheme of</text>
<text class="cs" x="722" y="1975" style="font-size:24px" textLength="38" lengthAdjust="spacingAndGlyphs">163</text>
<text class="cs" x="761" y="1994" style="font-size:34px" textLength="27" lengthAdjust="spacingAndGlyphs">Lu.</text>
</g>
</svg>
